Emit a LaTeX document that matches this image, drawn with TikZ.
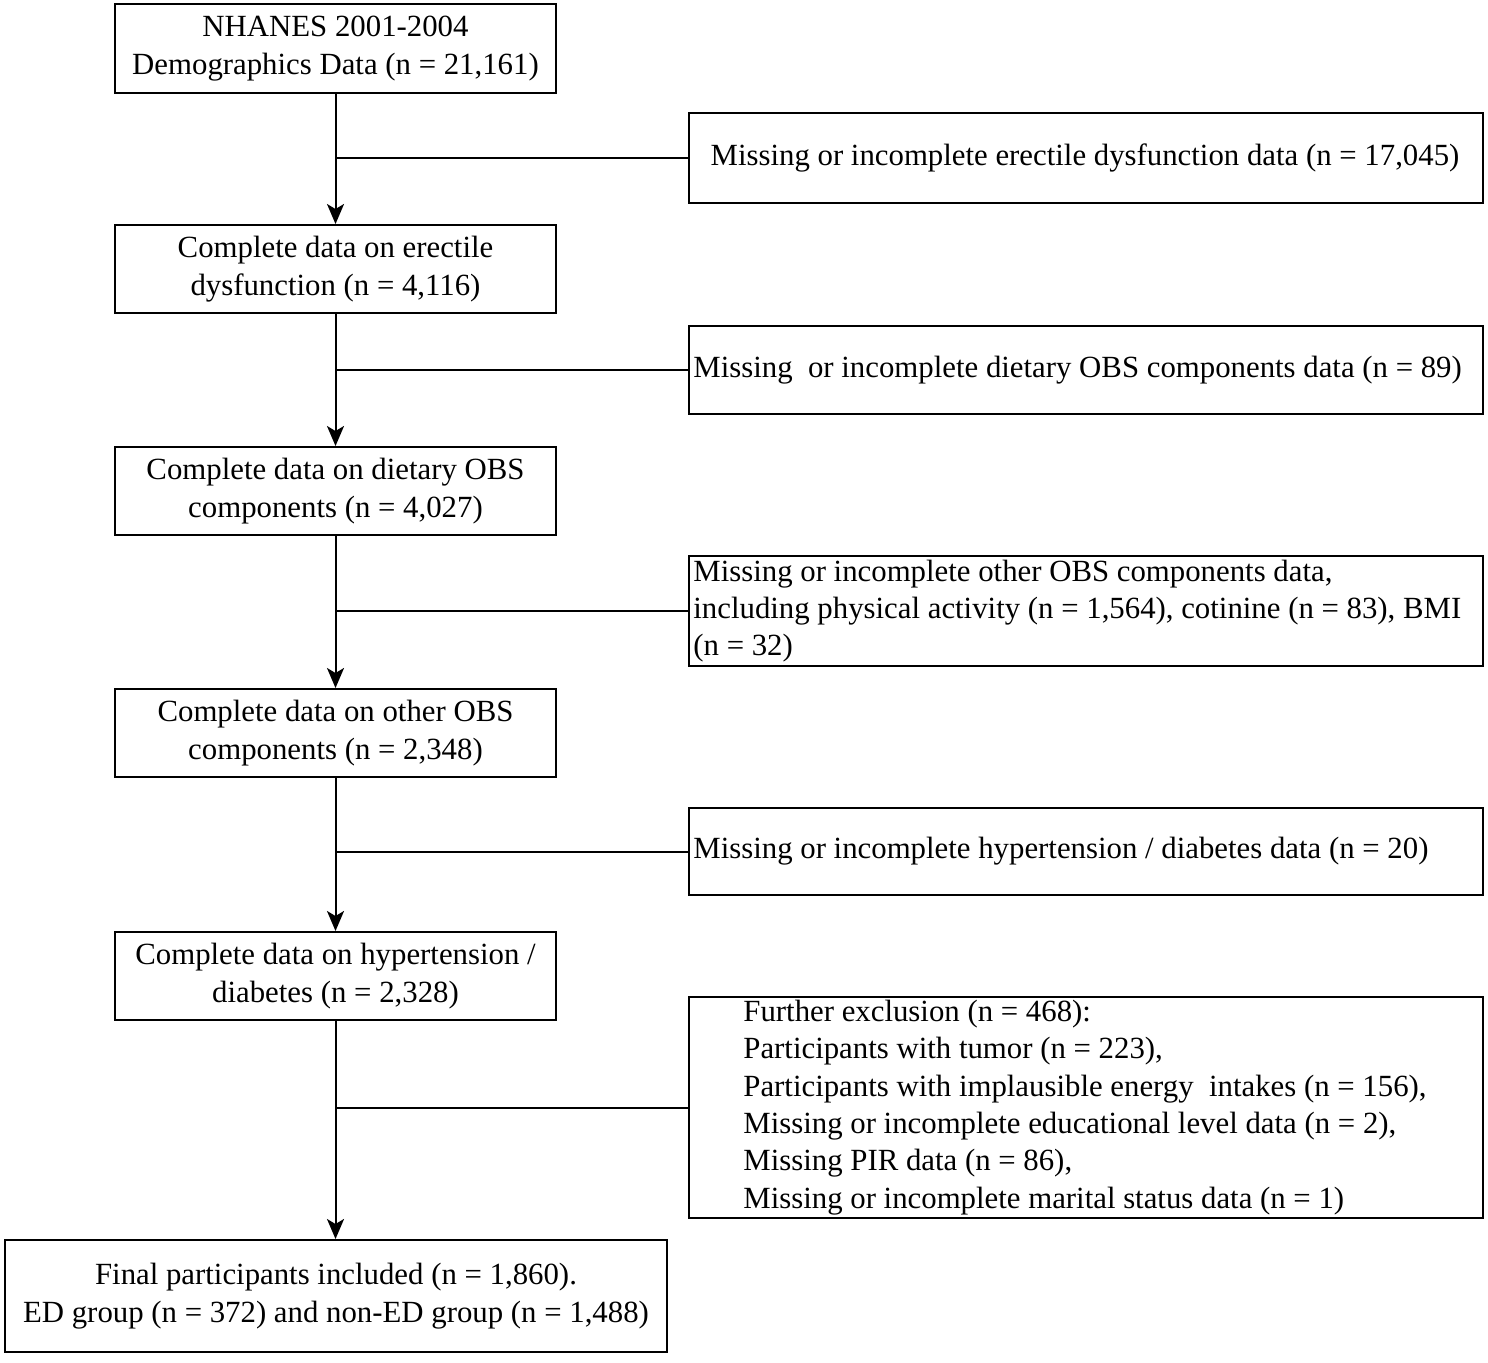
\documentclass[tikz,border=0pt]{standalone}
\usepackage{fontspec}
\setmainfont{Liberation Serif}
\usetikzlibrary{arrows.meta}
\begin{document}
\begin{tikzpicture}[x=0.5pt,y=-0.5pt,
  box/.style={draw=black,line width=1pt,inner sep=0pt,align=center,font=\fontsize{15.4}{19}\selectfont},
  lbox/.style={box,minimum width=220.5pt},
  rbox/.style={draw=black,line width=1pt,inner sep=0pt,minimum width=397pt},
  txt/.style={inner sep=0pt,align=left,anchor=west,font=\fontsize{15.4}{18.7}\selectfont},
  flow/.style={line width=1pt,-{Stealth[length=10pt,width=8.5pt,inset=2.5pt]}},
  side/.style={line width=1pt}]
\useasboundingbox (0,0) rectangle (1488,1362);
\node[lbox,minimum height=44.5pt] (b1) at (335.5,48.5) {NHANES 2001-2004\\Demographics Data (n = 21,161)};
\node[lbox,minimum height=44pt] (b2) at (335.5,269) {Complete data on erectile\\dysfunction (n = 4,116)};
\node[lbox,minimum height=44pt] (b3) at (335.5,491) {Complete data on dietary OBS\\components (n = 4,027)};
\node[lbox,minimum height=44pt] (b4) at (335.5,733) {Complete data on other OBS\\components (n = 2,348)};
\node[lbox,minimum height=44pt] (b5) at (335.5,976) {Complete data on hypertension /\\diabetes (n = 2,328)};
\node[box,minimum width=331pt,minimum height=56pt] (b6) at (336,1296) {Final participants included (n = 1,860).\\ED group (n = 372) and non-ED group (n = 1,488)};

\node[rbox,minimum height=45pt] (r1) at (1086,158) {};
\node[rbox,minimum height=44pt] (r2) at (1086,370) {};
\node[rbox,minimum height=55pt] (r3) at (1086,611) {};
\node[rbox,minimum height=43.5pt] (r4) at (1086,851.5) {};
\node[rbox,minimum height=110.5pt] (r5) at (1086,1107.5) {};

\node[txt,anchor=center] (t1) at (1085,158) {Missing or incomplete erectile dysfunction data (n = 17,045)};
\node[txt] (t2) at (693,370) {Missing\ \ or incomplete dietary OBS components data (n = 89)};
\node[txt] (t3) at (693,611) {Missing or incomplete other OBS components data,\\including physical activity (n = 1,564), cotinine (n = 83), BMI\\(n = 32)};
\node[txt] (t4) at (693,851.5) {Missing or incomplete hypertension / diabetes data (n = 20)};
\node[txt] (t5) at (743,1107.5) {Further exclusion (n = 468):\\Participants with tumor (n = 223),\\Participants with implausible energy\ \ intakes (n = 156),\\Missing or incomplete educational level data (n = 2),\\Missing PIR data (n = 86),\\Missing or incomplete marital status data (n = 1)};

\draw[flow] (b1) -- (b2);
\draw[flow] (b2) -- (b3);
\draw[flow] (b3) -- (b4);
\draw[flow] (b4) -- (b5);
\draw[flow] (b5.south) -- (b5.south |- b6.north);
\draw[side] (b1.south |- r1.west) -- (r1.west);
\draw[side] (b2.south |- r2.west) -- (r2.west);
\draw[side] (b3.south |- r3.west) -- (r3.west);
\draw[side] (b4.south |- r4.west) -- (r4.west);
\draw[side] (b5.south |- r5.west) -- (r5.west);
\end{tikzpicture}
\end{document}
